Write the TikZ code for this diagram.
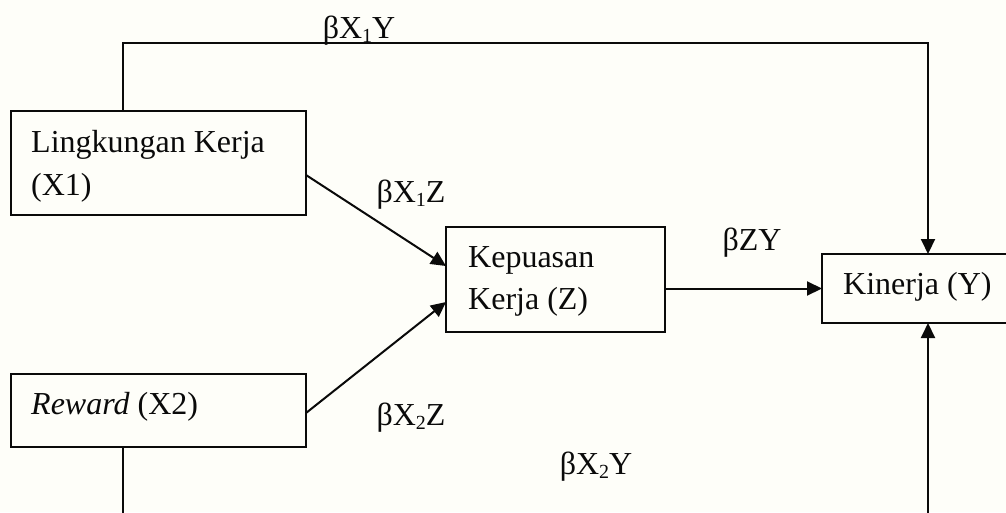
\documentclass[tikz,border=0pt]{standalone}
\usepackage{fontspec}
\setmainfont{Liberation Serif}
\usetikzlibrary{arrows.meta}
\definecolor{paper}{HTML}{FEFEF9}
\definecolor{ink}{HTML}{0A0A0A}
% small lowered index for path coefficients
\newcommand{\idx}[1]{\raisebox{-0.28ex}{\fontsize{20}{20}\selectfont #1}}
\begin{document}
\begin{tikzpicture}[x=1pt,y=-1pt,
  box/.style={draw=ink, line width=2pt, inner sep=0pt, outer sep=0pt},
  txt/.style={anchor=base west, inner sep=0pt, text=ink, font=\fontsize{32}{38}\selectfont},
  lbl/.style={anchor=base, inner sep=0pt, text=ink, font=\fontsize{32}{38}\selectfont},
  conn/.style={draw=ink, line width=2pt},
  arr/.style={conn, -{Triangle[length=15pt,width=14pt]}}
]
\useasboundingbox (0,0) rectangle (1006,512);
\fill[paper] (0,0) rectangle (1006,512);
\clip (0,0) rectangle (1006,512);

% boxes
\node[box, minimum width=295pt, minimum height=104pt] (x1) at (158.5,163) {};
\node[box, minimum width=295pt, minimum height=73pt]  (x2) at (158.5,410.5) {};
\node[box, minimum width=219pt, minimum height=105pt] (z)  at (555.5,279.5) {};
\node[box, minimum width=190pt, minimum height=69pt]  (y)  at (917,288.5) {};

% box texts
\node[txt] (x1a) at (31,152) {Lingkungan Kerja};
\node[txt] (x1b) at (31,195) {(X1)};
\node[txt] (x2a) at (31,414) {\textit{Reward} (X2)};
\node[txt] (za)  at (468,267) {Kepuasan};
\node[txt] (zb)  at (468,309) {Kerja (Z)};
\node[txt] (ya)  at (843,294) {Kinerja (Y)};

% path coefficients
\node[lbl] (b1y) at (359,38)  {βX\idx{1}Y};
\node[lbl] (b1z) at (411,202) {βX\idx{1}Z};
\node[lbl] (b2z) at (411,425) {βX\idx{2}Z};
\node[lbl] (bzy) at (752,250) {βZY};
\node[lbl] (b2y) at (596,474) {βX\idx{2}Y};

% corner points of the outer routes
\coordinate (tl) at (123,43);
\coordinate (tr) at (928,43);
\coordinate (bl) at (123,540);
\coordinate (br) at (928,540);

% connectors
\draw[arr] (x1.north -| tl) -- (tl) -- (tr) -- (y.north -| tr);
\draw[arr] (x2.south -| bl) -- (bl) -- (br) -- (y.south -| br);
\draw[arr] ([yshift=-12pt]x1.east) -- ([yshift=13.5pt]z.west);
\draw[arr] ([yshift=-2.5pt]x2.east) -- ([yshift=-22.5pt]z.west);
\draw[arr] (y.west -| z.east) -- (y.west);
\end{tikzpicture}
\end{document}
